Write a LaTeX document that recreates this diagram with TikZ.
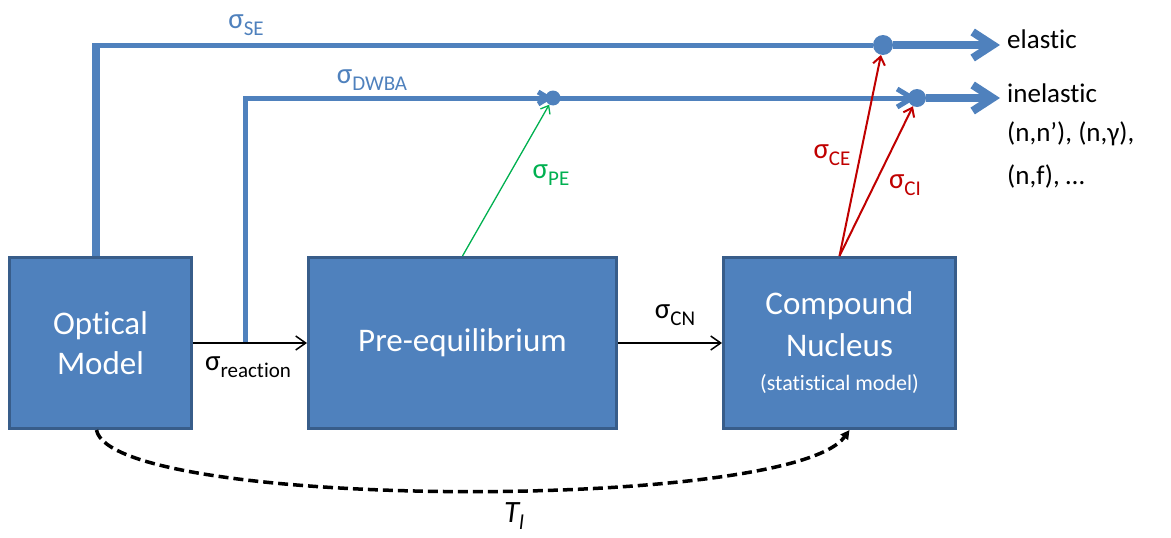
\documentclass[tikz,border=0pt]{standalone}
\usepackage{fontspec}
\setmainfont{Carlito}[Ligatures={NoCommon}]
\usetikzlibrary{positioning,arrows.meta}

\definecolor{boxblue}{HTML}{4F81BD}
\definecolor{boxedge}{HTML}{385D8A}
\definecolor{pegreen}{HTML}{00B050}
\definecolor{cnred}{HTML}{C00000}

% sigma with a lowered subscript
\newcommand{\xsig}[1]{σ\raisebox{-7pt}{\fontsize{21}{21}\selectfont #1}}

\begin{document}
\begin{tikzpicture}[x=1pt,y=-1pt,
    box node/.style={draw=boxedge,fill=boxblue,line width=3pt,text=white,align=center,
                     minimum height=171pt,inner sep=0pt,font=\fontsize{33}{40}\selectfont},
    dot node/.style={circle,fill=boxblue,inner sep=0pt},
    sigma node/.style={inner sep=0pt,font=\fontsize{29}{29}\selectfont},
    out node/.style={anchor=base west,inner sep=0pt,font=\fontsize{27}{27}\selectfont},
    blue line/.style={draw=boxblue,line width=5pt},
    thick blue/.style={draw=boxblue,line width=8pt,-{Straight Barb[length=20pt,width=26pt]},shorten >=7pt},
    black line/.style={draw=black,line width=1.5pt,-{Straight Barb[length=10pt,width=14pt]}},
    dash line/.style={draw=black,line width=3.5pt,dash pattern=on 10pt off 5pt,-{Triangle[length=9pt,width=9pt]}}]

    \useasboundingbox (0,0) rectangle (1171,538);

    % the three model boxes
    \node[box node,minimum width=182pt] (om) at (100.5,343) {Optical\\Model};
    \node[box node,minimum width=308pt,right=114pt of om] (pe) {Pre-equilibrium};
    \node[box node,minimum width=232pt,right=104pt of pe,font=\fontsize{33}{42}\selectfont] (cn)
        {Compound\\Nucleus\\[-8pt]{\fontsize{22}{24}\selectfont(statistical model)}};

    % junction dots
    \node[dot node,minimum size=20pt] (del) at (883,45) {};
    \node[dot node,minimum size=18pt] (din) at (917,98) {};
    \node[dot node,minimum size=15pt] (ddw) at (553,98) {};

    % outgoing channels
    \node[out node] (elastic) at (1007,48) {elastic};
    \node[out node] (inel) at (1007,102) {inelastic};
    \node[out node] (chan1) at (1007,141) {(n,n’), (n,γ),};
    \node[out node] (chan2) at (1007,184) {(n,f), …};

    \coordinate (se top) at (96,45);
    \coordinate (dw top) at (245,98);

    % shape elastic
    \draw[blue line,line width=8pt] (om.north -| se top) -- ([yshift=2.5pt]se top);
    \draw[blue line] (se top) -- (del);
    \draw[thick blue] (del) -- (del -| elastic.west);

    % direct reactions
    \draw[blue line,-{Straight Barb[length=10pt,width=12pt]}] (dw top |- om.east) -- (dw top) -- (ddw.center);
    \draw[blue line,-{Straight Barb[length=15pt,width=18pt]}] (ddw.center) -- (din.center);
    \draw[thick blue] (din) -- (din -| inel.west);

    \draw[black line] (om) -- (pe);
    \draw[black line] (pe) -- (cn);

    \draw[pegreen,line width=1.3pt,-{Straight Barb[length=7pt,width=11pt]}] (pe.north) -- (ddw);
    \draw[cnred,line width=2pt,-{Straight Barb[length=8pt,width=12pt]}] (cn.north) -- (del);
    \draw[cnred,line width=2pt,-{Straight Barb[length=8pt,width=12pt]}] (cn.north) -- (din);

    \draw[dash line] ([xshift=-4pt]om.south) .. controls (112,510) and (790,512) .. ([xshift=10pt]cn.south);

    % labels
    \node[sigma node,text=boxblue] (lse) at (246,25) {\xsig{SE}};
    \node[sigma node,text=boxblue] (ldw) at (372,80) {\xsig{DWBA}};
    \node[sigma node] (lre) at (248,367) {\xsig{reaction}};
    \node[sigma node] (lcn) at (675,315) {\xsig{CN}};
    \node[sigma node,text=pegreen] (lpe) at (551,175) {\xsig{PE}};
    \node[sigma node,text=cnred] (lce) at (832,155) {\xsig{CE}};
    \node[sigma node,text=cnred] (lci) at (905,185) {\xsig{CI}};
    \node[sigma node] (ltl) at (514,516) {\fontsize{31}{31}\selectfont\itshape T\raisebox{-7pt}{\fontsize{21}{21}\selectfont l}};

\end{tikzpicture}
\end{document}
